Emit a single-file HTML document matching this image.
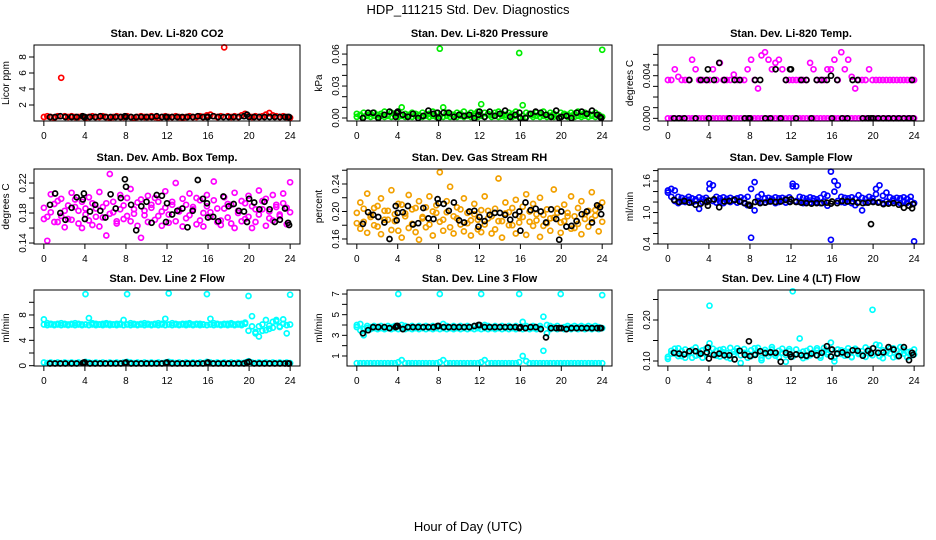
<!DOCTYPE html>
<html><head><meta charset="utf-8"><style>
html,body{margin:0;padding:0;background:#fff;}
svg{display:block;font-family:"Liberation Sans",Arial,sans-serif;}
</style></head><body>
<svg id="chart" width="936" height="540" viewBox="0 0 936 540" xmlns="http://www.w3.org/2000/svg">
<rect x="0" y="0" width="936" height="540" fill="#fff"/>
<text x="468" y="14" font-size="13" text-anchor="middle">HDP_111215  Std. Dev. Diagnostics</text>
<text x="468" y="531" font-size="13" text-anchor="middle">Hour of Day (UTC)</text>
</svg>
<script>
const blackHours=[0.6,1.1,1.6,2.1,2.7,3.2,3.8,3.9,4.0,4.5,5.0,5.5,6.0,6.5,7.0,7.5,7.9,8.0,8.5,9.0,9.5,10.0,10.5,11.0,11.5,11.9,12.0,12.5,13.0,13.5,14.0,14.5,15.0,15.5,15.9,16.0,16.5,17.0,17.5,18.0,18.5,19.0,19.5,19.8,20.0,20.5,21.0,21.5,22.0,22.5,23.0,23.5,23.8,23.9];
const xTicks=[0,4,8,12,16,20,24];

const co2Red=[0.5,0.6,0.5,0.4,0.6,5.4,0.6,0.5,0.6,0.5,0.5,0.6,0.4,0.5,0.6,0.5,0.5,0.6,0.5,0.4,0.5,0.6,0.5,0.5,0.6,0.5,0.4,0.5,0.6,0.5,0.5,0.6,0.5,0.4,0.5,0.6,0.5,0.5,0.6,0.5,0.4,0.5,0.6,0.5,0.5,0.6,0.5,0.7,0.8,0.6,0.5,0.6,9.2,0.6,0.5,0.6,0.5,0.7,0.9,0.6,0.5,0.6,0.5,0.6,0.8,1.0,0.7,0.6,0.5,0.6,0.5,0.4];
const co2Black=[0.5,0.5,0.6,0.5,0.5,0.5,0.6,0.5,0.5,0.5,0.5,0.6,0.5,0.5,0.5,0.5,0.6,0.5,0.5,0.5,0.5,0.5,0.5,0.6,0.5,0.5,0.5,0.5,0.5,0.5,0.5,0.5,0.6,0.5,0.5,0.5,0.6,0.5,0.5,0.5,0.5,0.5,0.6,0.8,0.5,0.5,0.5,0.5,0.5,0.5,0.5,0.5,0.5,0.5];

const pressGreen=[0.004,0.003,0.005,0.002,0.004,0.005,0.003,0.004,0.006,0.003,0.005,0.004,0.006,0.010,0.004,0.003,0.005,0.004,0.002,0.005,0.003,0.004,0.006,0.005,0.065,0.010,0.005,0.004,0.003,0.005,0.004,0.006,0.003,0.005,0.004,0.006,0.013,0.005,0.004,0.003,0.005,0.006,0.004,0.003,0.005,0.004,0.006,0.061,0.012,0.005,0.004,0.003,0.005,0.004,0.006,0.003,0.005,0.004,0.002,0.005,0.004,0.003,0.005,0.004,0.006,0.003,0.005,0.004,0.003,0.005,0.003,0.064];
const pressGreen2=[0.001,0.002,0.001,0.003,0.001,0.002,0.001,0.002,0.001,0.002,0.001,0.003,0.001,0.002,0.001,0.002,0.001,0.002,0.003,0.001,0.002,0.001,0.002,0.001,0.002,0.001,0.002,0.001,0.003,0.001,0.002,0.001,0.002,0.001,0.002,0.001,0.002,0.001,0.003,0.001,0.002,0.001,0.002,0.001,0.002,0.001,0.002,0.001,0.002,0.001,0.003,0.001,0.002,0.001,0.002,0.001,0.002,0.001,0.002,0.001,0.003,0.001,0.002,0.001,0.002,0.001,0.002,0.001,0.002,0.001,0.002,0.001];
const pressBlack=[0.000,0.005,0.005,0.000,0.003,0.006,0.001,0.005,0.006,0.003,0.001,0.004,0.000,0.002,0.007,0.004,0.005,0.000,0.005,0.005,0.001,0.003,0.002,0.003,0.000,0.003,0.006,0.001,0.006,0.002,0.004,0.007,0.001,0.003,0.005,0.000,0.000,0.004,0.006,0.005,0.003,0.001,0.007,0.000,0.001,0.002,0.000,0.005,0.006,0.004,0.007,0.003,0.001,0.000];

const tempLow=[0,0,0,0,0,0,0,0,0,0,0,0,0,0,0,0,0,0,0,0,0,0,0,0,0,0,0,0,0,0,0,0,0,0,0,0,0,0,0,0,0,0,0,0,0,0,0,0,0,0,0,0,0,0,0,0,0,0,0,0,0,0,0,0,0,0,0,0,0,0,0,0];
const tempHigh=[0.0036,0.0036,0.0046,0.0039,0.0036,0.0036,0.0036,0.0055,0.0046,0.0036,0.0036,0.0036,0.0036,0.0046,0.0036,0.0052,0.0036,0.0036,0.0036,0.0041,0.0036,0.0036,0.0036,0.0046,0.0055,0.0036,0.0028,0.0059,0.0062,0.0055,0.0046,0.0052,0.0055,0.0046,0.0036,0.0036,0.0036,0.0036,0.0036,0.0036,0.0036,0.0052,0.0046,0.0036,0.0036,0.0036,0.0046,0.0046,0.0055,0.0036,0.0062,0.0046,0.0055,0.0039,0.0028,0.0036,0.0036,0.0036,0.0046,0.0036,0.0036,0.0036,0.0036,0.0036,0.0036,0.0036,0.0036,0.0036,0.0036,0.0036,0.0036,0.0036];
const tempBlack=[0,0,0,0.0036,0,0.0036,0.0036,0.0046,0,0.0036,0.0052,0.0036,0,0.0036,0.0036,0,0,0,0.0036,0.0036,0,0,0.0046,0,0.0036,0.0046,0.0046,0,0.0036,0.0036,0,0.0036,0.0036,0.0036,0.004,0,0.0036,0,0,0.0036,0.0036,0,0,0,0,0,0,0,0,0,0,0,0.0036,0];

const ambA=[0.187,0.175,0.205,0.192,0.168,0.199,0.183,0.172,0.207,0.188,0.166,0.195,0.178,0.201,0.164,0.186,0.208,0.174,0.193,0.232,0.181,0.169,0.204,0.190,0.176,0.212,0.185,0.163,0.198,0.177,0.203,0.187,0.171,0.195,0.182,0.209,0.167,0.191,0.220,0.184,0.199,0.173,0.206,0.188,0.165,0.197,0.180,0.204,0.175,0.222,0.186,0.170,0.201,0.192,0.166,0.207,0.183,0.196,0.172,0.203,0.189,0.168,0.210,0.185,0.199,0.173,0.204,0.191,0.178,0.206,0.187,0.221];
const ambB=[0.172,0.143,0.181,0.168,0.196,0.176,0.161,0.190,0.171,0.198,0.183,0.160,0.186,0.170,0.193,0.175,0.162,0.188,0.150,0.179,0.195,0.166,0.185,0.172,0.200,0.169,0.179,0.194,0.147,0.183,0.168,0.191,0.200,0.176,0.163,0.187,0.178,0.195,0.169,0.182,0.162,0.191,0.177,0.185,0.200,0.170,0.162,0.189,0.181,0.197,0.168,0.164,0.186,0.174,0.191,0.160,0.180,0.169,0.193,0.175,0.160,0.185,0.178,0.196,0.163,0.182,0.170,0.188,0.176,0.193,0.165,0.181];
const ambBlack=[0.191,0.206,0.180,0.171,0.187,0.201,0.198,0.206,0.172,0.182,0.191,0.183,0.174,0.205,0.186,0.200,0.225,0.215,0.191,0.157,0.189,0.195,0.167,0.204,0.203,0.168,0.193,0.178,0.183,0.186,0.161,0.183,0.224,0.199,0.193,0.174,0.175,0.169,0.202,0.189,0.192,0.183,0.182,0.168,0.199,0.194,0.185,0.195,0.185,0.168,0.171,0.186,0.167,0.164];

const rhA=[0.198,0.213,0.185,0.226,0.192,0.205,0.178,0.219,0.201,0.188,0.231,0.196,0.172,0.210,0.193,0.224,0.182,0.205,0.215,0.190,0.177,0.222,0.200,0.209,0.257,0.188,0.215,0.236,0.193,0.206,0.181,0.219,0.198,0.187,0.211,0.174,0.202,0.222,0.190,0.168,0.204,0.248,0.186,0.213,0.199,0.180,0.217,0.193,0.207,0.225,0.185,0.211,0.196,0.220,0.179,0.203,0.190,0.232,0.198,0.184,0.210,0.193,0.222,0.176,0.205,0.215,0.189,0.201,0.228,0.194,0.208,0.213];
const rhB=[0.183,0.175,0.204,0.169,0.195,0.180,0.208,0.167,0.188,0.201,0.173,0.186,0.211,0.162,0.197,0.176,0.203,0.170,0.159,0.192,0.206,0.181,0.165,0.198,0.185,0.172,0.199,0.177,0.168,0.190,0.203,0.171,0.183,0.165,0.196,0.188,0.170,0.181,0.201,0.193,0.174,0.186,0.162,0.197,0.180,0.205,0.168,0.184,0.192,0.166,0.200,0.179,0.187,0.163,0.195,0.183,0.172,0.191,0.204,0.169,0.186,0.198,0.175,0.193,0.182,0.167,0.196,0.178,0.189,0.202,0.171,0.185];
const rhBlack=[0.182,0.199,0.195,0.192,0.184,0.160,0.208,0.187,0.198,0.199,0.208,0.181,0.183,0.205,0.190,0.189,0.218,0.212,0.211,0.201,0.213,0.187,0.184,0.200,0.201,0.178,0.192,0.186,0.195,0.198,0.198,0.195,0.188,0.195,0.200,0.172,0.213,0.202,0.204,0.200,0.184,0.203,0.189,0.159,0.200,0.178,0.179,0.186,0.196,0.200,0.184,0.209,0.206,0.196];

const flowA=[1.38,1.45,1.42,1.30,1.28,1.26,1.30,1.27,1.25,1.29,1.26,1.28,1.55,1.52,1.30,1.27,1.29,1.26,1.28,1.25,1.27,1.29,1.26,1.30,1.45,1.58,1.30,1.35,1.27,1.28,1.26,1.29,1.27,1.28,1.26,1.29,1.55,1.50,1.30,1.28,1.26,1.29,1.27,1.25,1.28,1.35,1.32,1.78,1.60,1.52,1.30,1.28,1.27,1.29,1.26,1.33,1.28,1.26,1.30,1.27,1.45,1.52,1.32,1.38,1.29,1.26,1.28,1.27,1.29,1.26,1.30,0.45];
const flowB=[1.42,1.30,1.22,1.18,1.21,1.20,1.24,1.19,1.22,1.07,1.20,1.23,1.45,1.22,1.19,1.21,1.18,1.22,1.20,1.23,1.19,1.21,1.18,1.14,0.52,1.04,1.22,1.20,1.19,1.21,1.23,1.18,1.20,1.22,1.19,1.21,1.50,1.22,1.20,1.18,1.21,1.19,1.22,1.20,1.18,1.21,1.13,0.48,1.40,1.22,1.20,1.19,1.21,1.18,1.14,1.20,1.04,1.19,1.21,1.22,1.35,1.20,1.18,1.21,1.19,1.22,1.20,1.18,1.21,1.19,1.22,1.18];
const flowBlack=[1.24,1.20,1.22,1.19,1.15,1.17,1.20,1.13,1.23,1.25,1.10,1.21,1.22,1.24,1.21,1.18,1.15,1.13,1.20,1.18,1.19,1.21,1.20,1.21,1.24,1.20,1.25,1.20,1.19,1.18,1.17,1.18,1.18,1.19,1.17,1.21,1.18,1.22,1.21,1.21,1.19,1.18,1.19,0.78,1.20,1.19,1.16,1.17,1.18,1.15,1.09,1.13,1.08,1.16];

const line2High=[7.3,6.7,6.6,6.5,6.6,6.7,6.6,6.5,6.6,6.7,6.6,6.5,11.3,7.5,6.7,6.6,6.5,6.6,6.7,6.6,6.5,6.6,6.6,7.2,11.3,6.7,6.6,6.5,6.6,6.7,6.6,6.5,6.6,6.7,6.6,7.4,11.4,6.7,6.6,6.5,6.6,6.6,6.7,6.5,6.6,6.6,6.5,11.3,7.4,6.7,6.6,6.5,6.6,6.6,6.7,6.5,6.6,6.6,6.8,11.0,6.2,5.1,4.6,6.5,5.6,5.8,6.9,7.2,6.1,7.3,6.4,11.2];
const line2Mid=[6.5,6.4,6.5,6.4,6.5,6.4,6.5,6.4,6.5,6.4,6.5,6.4,6.5,6.4,6.5,6.4,6.5,6.4,6.5,6.4,6.5,6.4,6.5,6.4,6.5,6.4,6.5,6.4,6.5,6.4,6.5,6.4,6.5,6.4,6.5,6.4,6.5,6.4,6.5,6.4,6.5,6.4,6.5,6.4,6.5,6.4,6.5,6.4,6.5,6.4,6.5,6.4,6.5,6.4,6.5,6.4,6.5,6.4,6.6,5.5,7.8,5.3,6.2,5.5,7.2,6.3,6.0,7.0,6.2,6.6,5.1,6.5];
const line2Low=[0.5,0.4,0.5,0.4,0.5,0.4,0.5,0.4,0.5,0.4,0.5,0.4,0.6,0.5,0.4,0.5,0.4,0.5,0.4,0.5,0.4,0.5,0.4,0.5,0.6,0.5,0.4,0.5,0.4,0.5,0.4,0.5,0.4,0.5,0.4,0.5,0.6,0.5,0.4,0.5,0.4,0.5,0.4,0.5,0.4,0.5,0.4,0.6,0.5,0.4,0.5,0.4,0.5,0.4,0.5,0.4,0.5,0.4,0.5,0.7,0.5,0.4,0.5,0.4,0.5,0.4,0.5,0.4,0.5,0.4,0.5,0.4];
const line2Black=[0.35,0.35,0.35,0.35,0.35,0.35,0.4,0.5,0.5,0.35,0.35,0.35,0.35,0.35,0.35,0.35,0.4,0.5,0.35,0.35,0.35,0.35,0.35,0.35,0.35,0.4,0.5,0.35,0.35,0.35,0.35,0.35,0.35,0.35,0.4,0.5,0.35,0.35,0.35,0.35,0.35,0.35,0.35,0.5,0.6,0.35,0.35,0.35,0.35,0.35,0.35,0.35,0.35,0.35];

const line3High=[4.0,3.5,3.0,3.9,3.8,3.9,3.8,3.9,3.8,3.9,3.8,3.9,7.0,4.0,3.9,3.8,3.9,3.8,3.9,3.8,3.9,3.8,3.9,3.8,7.0,4.1,3.9,3.8,3.9,3.8,3.9,3.8,3.9,3.8,3.9,3.8,7.0,4.0,3.9,3.8,3.9,3.8,3.9,3.8,3.9,3.8,3.9,7.0,4.3,3.9,3.8,3.9,3.8,3.9,4.8,3.2,3.9,3.8,3.9,7.0,3.8,3.9,3.8,3.9,3.8,3.9,3.8,3.9,3.8,3.9,3.8,6.9];
const line3Mid=[3.8,4.1,3.6,3.7,3.6,3.7,3.6,3.7,3.6,3.7,3.6,3.7,3.6,3.7,3.6,3.7,3.6,3.7,3.6,3.7,3.6,3.7,3.6,3.7,3.6,3.7,3.6,3.7,3.6,3.7,3.6,3.7,3.6,3.7,3.6,3.7,3.6,3.7,3.6,3.7,3.6,3.7,3.6,3.7,3.6,3.7,3.6,3.7,3.6,3.7,3.6,3.7,3.6,3.7,1.5,4.0,3.6,3.7,3.6,3.7,3.6,3.7,3.6,3.7,3.6,3.7,3.6,3.7,3.6,3.7,3.6,3.7];
const line3Low=[0.3,0.3,0.3,0.3,0.3,0.3,0.3,0.3,0.3,0.3,0.3,0.3,0.4,0.6,0.3,0.3,0.3,0.3,0.3,0.3,0.3,0.3,0.3,0.3,0.4,0.6,0.3,0.3,0.3,0.3,0.3,0.3,0.3,0.3,0.3,0.3,0.4,0.6,0.3,0.3,0.3,0.3,0.3,0.3,0.3,0.3,0.3,0.4,1.0,0.5,0.3,0.3,0.3,0.3,0.3,0.3,0.3,0.3,0.3,0.3,0.3,0.3,0.3,0.3,0.3,0.3,0.3,0.3,0.3,0.3,0.3,0.3];
const line3Black=[3.2,3.5,3.8,3.8,3.8,3.7,3.8,3.9,3.9,3.6,3.8,3.8,3.8,3.8,3.8,3.8,3.9,3.9,3.8,3.8,3.8,3.8,3.8,3.8,3.9,4.0,4.0,3.8,3.8,3.8,3.8,3.8,3.8,3.8,3.7,3.8,3.7,3.8,3.8,3.6,2.8,3.7,3.7,3.7,3.7,3.6,3.7,3.7,3.7,3.7,3.7,3.7,3.7,3.7];

const line4A=[0.110,0.125,0.118,0.131,0.112,0.128,0.120,0.108,0.133,0.115,0.126,0.119,0.235,0.130,0.113,0.127,0.121,0.109,0.132,0.116,0.124,0.095,0.129,0.118,0.112,0.131,0.122,0.107,0.127,0.119,0.134,0.113,0.125,0.120,0.098,0.129,0.270,0.117,0.155,0.123,0.110,0.130,0.119,0.126,0.113,0.132,0.121,0.145,0.108,0.128,0.117,0.124,0.131,0.110,0.127,0.120,0.115,0.133,0.118,0.225,0.140,0.112,0.126,0.121,0.130,0.109,0.125,0.134,0.118,0.122,0.113,0.128];
const line4B=[0.105,0.118,0.130,0.112,0.124,0.108,0.119,0.127,0.113,0.122,0.108,0.130,0.143,0.116,0.125,0.111,0.129,0.119,0.106,0.123,0.131,0.114,0.120,0.108,0.126,0.117,0.132,0.102,0.121,0.112,0.128,0.118,0.109,0.130,0.115,0.124,0.111,0.128,0.119,0.107,0.125,0.114,0.120,0.131,0.108,0.123,0.116,0.128,0.099,0.119,0.126,0.113,0.122,0.109,0.130,0.117,0.124,0.110,0.128,0.114,0.121,0.138,0.107,0.125,0.118,0.131,0.112,0.120,0.127,0.109,0.123,0.116];
const line4Black=[0.120,0.118,0.116,0.124,0.124,0.118,0.121,0.133,0.106,0.115,0.118,0.114,0.114,0.104,0.125,0.115,0.148,0.112,0.115,0.124,0.119,0.121,0.120,0.098,0.120,0.116,0.110,0.116,0.114,0.113,0.118,0.114,0.120,0.136,0.111,0.128,0.118,0.121,0.115,0.126,0.125,0.113,0.125,0.119,0.131,0.120,0.121,0.134,0.128,0.112,0.134,0.102,0.120,0.115];

const svg=document.getElementById('chart');
const NS='http://www.w3.org/2000/svg';
function mk(tag,attrs,parent){const e=document.createElementNS(NS,tag);for(const k in attrs)e.setAttribute(k,attrs[k]);(parent||svg).appendChild(e);return e;}

const cols=[{l:34,r:300},{l:347,r:612},{l:658,r:924}];
const rows=[{t:45,b:121},{t:169,b:244},{t:290,b:366}];

const panels=[
 {name:'co2',title:'Stan. Dev. Li-820 CO2',ylab:'Licor ppm',c:0,r:0,yr:[0,9.5],ticks:[2,4,6,8],labels:['2','4','6','8'],
  series:[{y:co2Red,color:'#ff0000'},{x:blackHours,y:co2Black,color:'#000'}]},
 {name:'pressure',title:'Stan. Dev. Li-820 Pressure',ylab:'kPa',c:1,r:0,yr:[-0.0028,0.0685],ticks:[0,0.01,0.02,0.03,0.04,0.05,0.06],labels:['0.00','','','0.03','','','0.06'],
  series:[{y:pressGreen2,color:'#00ee00'},{y:pressGreen,color:'#00ee00'},{x:blackHours,y:pressBlack,color:'#000'}]},
 {name:'temp',title:'Stan. Dev. Li-820 Temp.',ylab:'degrees C',c:2,r:0,yr:[-0.00025,0.00688],ticks:[0,0.001,0.002,0.003,0.004,0.005,0.006],labels:['0.000','','','','0.004','',''],
  series:[{y:tempLow,color:'#ff00ff'},{y:tempHigh,color:'#ff00ff'},{x:blackHours,y:tempBlack,color:'#000'}]},
 {name:'amb-box-temp',title:'Stan. Dev. Amb. Box Temp.',ylab:'degrees C',c:0,r:1,yr:[0.1387,0.2387],ticks:[0.14,0.16,0.18,0.20,0.22],labels:['0.14','','0.18','','0.22'],
  series:[{y:ambA,color:'#ff00ff'},{y:ambB,color:'#ff00ff'},{x:blackHours,y:ambBlack,color:'#000'}]},
 {name:'gas-stream-rh',title:'Stan. Dev. Gas Stream RH',ylab:'percent',c:1,r:1,yr:[0.1527,0.2618],ticks:[0.16,0.18,0.20,0.22,0.24,0.26],labels:['0.16','','0.20','','0.24',''],
  series:[{y:rhA,color:'#f2a000'},{y:rhB,color:'#f2a000'},{x:blackHours,y:rhBlack,color:'#000'}]},
 {name:'sample-flow',title:'Stan. Dev. Sample Flow',ylab:'ml/min',c:2,r:1,yr:[0.4,1.83],ticks:[0.4,0.6,0.8,1.0,1.2,1.4,1.6,1.8],labels:['0.4','','','1.0','','','1.6',''],
  series:[{y:flowA,color:'#0000ff'},{y:flowB,color:'#0000ff'},{x:blackHours,y:flowBlack,color:'#000'}]},
 {name:'line2-flow',title:'Stan. Dev. Line 2 Flow',ylab:'ml/min',c:0,r:2,yr:[-0.05,11.94],ticks:[0,2,4,6,8,10],labels:['0','','4','','8',''],
  series:[{y:line2Low,color:'#00ffff'},{y:line2Mid,color:'#00ffff'},{y:line2High,color:'#00ffff'},{x:blackHours,y:line2Black,color:'#000'}]},
 {name:'line3-flow',title:'Stan. Dev. Line 3 Flow',ylab:'ml/min',c:1,r:2,yr:[0.03,7.39],ticks:[1,2,3,4,5,6,7],labels:['1','','3','','5','','7'],
  series:[{y:line3Low,color:'#00ffff'},{y:line3Mid,color:'#00ffff'},{y:line3High,color:'#00ffff'},{x:blackHours,y:line3Black,color:'#000'}]},
 {name:'line4-flow',title:'Stan. Dev. Line 4 (LT) Flow',ylab:'ml/min',c:2,r:2,yr:[0.0878,0.2732],ticks:[0.10,0.15,0.20,0.25],labels:['0.10','','0.20',''],
  series:[{y:line4A,color:'#00ffff'},{y:line4B,color:'#00ffff'},{x:blackHours,y:line4Black,color:'#000'}]}
];

panels.forEach(p=>{
  const L=cols[p.c].l,R=cols[p.c].r,T=rows[p.r].t,B=rows[p.r].b;
  const xs=h=>L+(R-L)*(h+0.96)/25.92;
  const ys=v=>B-(B-T)*(v-p.yr[0])/(p.yr[1]-p.yr[0]);
  const g=mk('g',{});
  
  
  const tt=mk('text',{x:(L+R)/2,y:T-8,'font-size':11,'font-weight':'bold','text-anchor':'middle'},g);
  tt.textContent=p.title;
  
  
  const yl=mk('text',{x:0,y:0,'font-size':10,'text-anchor':'middle',transform:`translate(${L-25},${(T+B)/2}) rotate(-90)`},g);
  yl.textContent=p.ylab;
  
  
  p.series.forEach((s,si)=>{
    const sg=mk('g',{fill:'none',stroke:s.color,'stroke-width':1.7},g);
    
    
    const n=s.y.length;
    for(let i=0;i<n;i++){
      const v=s.y[i]; if(v==null) continue;
      let h;
      if(s.x){ if(i>=s.x.length) break; h=s.x[i]; } else h=i*24/(n-1);
      const c=mk('circle',{cx:xs(h).toFixed(1),cy:ys(v).toFixed(1),r:2.5},sg);
      
      
    }
  });
  const box=mk('rect',{x:L,y:T,width:R-L,height:B-T,fill:'none',stroke:'#000','stroke-width':1},g);
  
  
  const xa=mk('g',{},g);
  
  
  mk('line',{x1:xs(xTicks[0]),x2:xs(xTicks[xTicks.length-1]),y1:B,y2:B,stroke:'#000'},xa);
  xTicks.forEach(t=>{
    mk('line',{x1:xs(t),x2:xs(t),y1:B,y2:B+5,stroke:'#000'},xa);
    const tx=mk('text',{x:xs(t),y:B+18,'font-size':10,'text-anchor':'middle'},xa);
    tx.textContent=t;
  });
  const ya=mk('g',{},g);
  
  
  p.ticks.forEach((t,i)=>{
    mk('line',{x1:L-5,x2:L,y1:ys(t),y2:ys(t),stroke:'#000'},ya);
    if(p.labels[i]){
      const tx=mk('text',{x:0,y:0,'font-size':10,'text-anchor':'middle',transform:`translate(${L-8},${ys(t)}) rotate(-90)`},ya);
      tx.textContent=p.labels[i];
    }
  });
});
</script>
</body></html>
